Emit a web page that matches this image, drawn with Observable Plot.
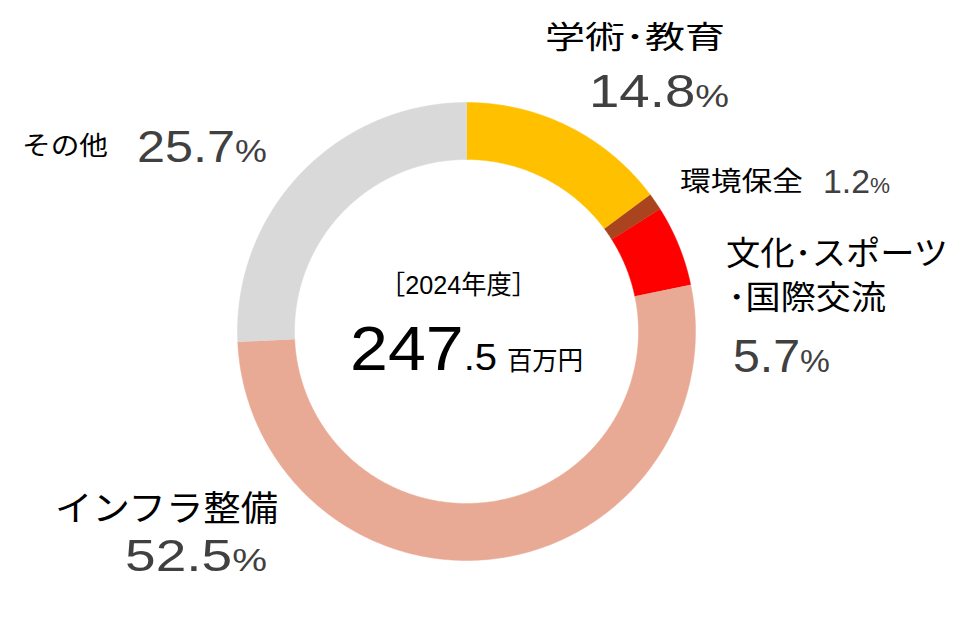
<!DOCTYPE html>
<html><head><meta charset="utf-8">
<script src="https://cdn.jsdelivr.net/npm/d3@7"></script>
<script src="https://cdn.jsdelivr.net/npm/@observablehq/plot@0.6"></script>
<style>html,body{margin:0;padding:0;background:#fff;} #chart{position:relative;width:973px;height:628px;}</style>
</head><body><div id="chart"></div>
<script>
// ---- data ----
const categories = ["学術・教育", "環境保全", "文化・スポーツ・国際交流", "インフラ整備", "その他"];
const shares = [14.8, 1.2, 5.7, 52.5, 25.7];
const percentLabels = ["14.8", "1.2", "5.7", "52.5", "25.7"];
const labelLines = [["学術･教育"], ["環境保全"], ["文化･スポーツ", "･国際交流"], ["インフラ整備"], ["その他"]];
const colors = ["#FFC000", "#A9441F", "#FF0000", "#E9AA95", "#D9D9D9"];
const yearLabel = ["［", "2024", "年度", "］"];
const totalInt = "247";
const totalDec = ".5";
const totalUnit = "百万円";

// ---- layout ----
const W = 973, H = 628, cx = 466, cy = 331, R = 229, rInner = 172;
const inner = rInner / R;
const JP = "'Noto Sans CJK JP', 'Noto Sans', sans-serif";
const NUM = "'Liberation Sans', Arial, sans-serif";
const NUMCOL = "#404040";

const total = d3.sum(shares);
let acc = 0;
const pts = [];
categories.forEach((name, i) => {
  const a0 = acc / total * 2 * Math.PI; acc += shares[i];
  const a1 = acc / total * 2 * Math.PI;
  const n = Math.max(2, Math.ceil((a1 - a0) / (Math.PI / 360)));
  for (let k = 0; k <= n; k++) { const a = a0 + (a1 - a0) * k / n; pts.push({name, x: Math.sin(a), y: Math.cos(a)}); }
  for (let k = n; k >= 0; k--) { const a = a0 + (a1 - a0) * k / n; pts.push({name, x: Math.sin(a) * inner, y: Math.cos(a) * inner}); }
});

const svg = Plot.plot({
  width: W, height: H, margin: 0,
  style: {background: "#fff"},
  x: {domain: [-cx / R, (W - cx) / R], axis: null},
  y: {domain: [-(H - cy) / R, cy / R], axis: null},
  color: {domain: categories, range: colors},
  marks: [
    Plot.line(pts, {x: "x", y: "y", z: "name", fill: "name", stroke: "name", strokeWidth: 0.5})
  ]
});
document.getElementById("chart").appendChild(svg);

// ---- labels ----
const jp = (t, size) => ({t, size, font: JP, fill: "#000"});
const num = (t, size, fill = NUMCOL) => ({t, size, font: NUM, fill});
const labels = [
  {x: 545, y: 48, w: 180, parts: [jp(labelLines[0][0], 31)]},
  {x: 589, y: 107, w: 140, parts: [num(percentLabels[0], 46), num("%", 32)]},
  {x: 680, y: 191, w: 123, parts: [jp(labelLines[1][0], 27)]},
  {x: 823, y: 193, w: 67, parts: [num(percentLabels[1], 33), num("%", 22)]},
  {x: 726, y: 265, w: 222, parts: [jp(labelLines[2][0], 33)]},
  {x: 728, y: 309, w: 158, parts: [jp(labelLines[2][1], 33)]},
  {x: 733, y: 372, w: 97, parts: [num(percentLabels[2], 46), num("%", 32)]},
  {x: 55, y: 521, w: 223, parts: [jp(labelLines[3][0], 35)]},
  {x: 125, y: 571, w: 142, parts: [num(percentLabels[3], 45), num("%", 32)]},
  {x: 22, y: 155, w: 86, parts: [jp(labelLines[4][0], 26)]},
  {x: 137, y: 162, w: 130, parts: [num(percentLabels[4], 45), num("%", 32)]},
  {x: 380, y: 294, w: 157, parts: [jp(yearLabel[0], 26), num(yearLabel[1], 26, "#000"), jp(yearLabel[2], 26), jp(yearLabel[3], 26)]},
  {x: 350, y: 370, w: 147, parts: [num(totalInt, 63, "#000"), num(totalDec, 37, "#000")]},
  {x: 507, y: 370, w: 76, parts: [jp(totalUnit, 26)]}
];
const g = d3.select(svg).append("g");
labels.forEach(L => {
  const text = g.append("text").attr("transform", `translate(${L.x},${L.y})`);
  L.parts.forEach(p => text.append("tspan").attr("font-size", p.size).attr("font-family", p.font).attr("fill", p.fill).text(p.t));
  const bb = text.node().getBBox();
  const s = L.w / bb.width;
  text.attr("transform", `translate(${L.x - bb.x * s},${L.y}) scale(${s},1)`);
});
</script>
</body></html>
